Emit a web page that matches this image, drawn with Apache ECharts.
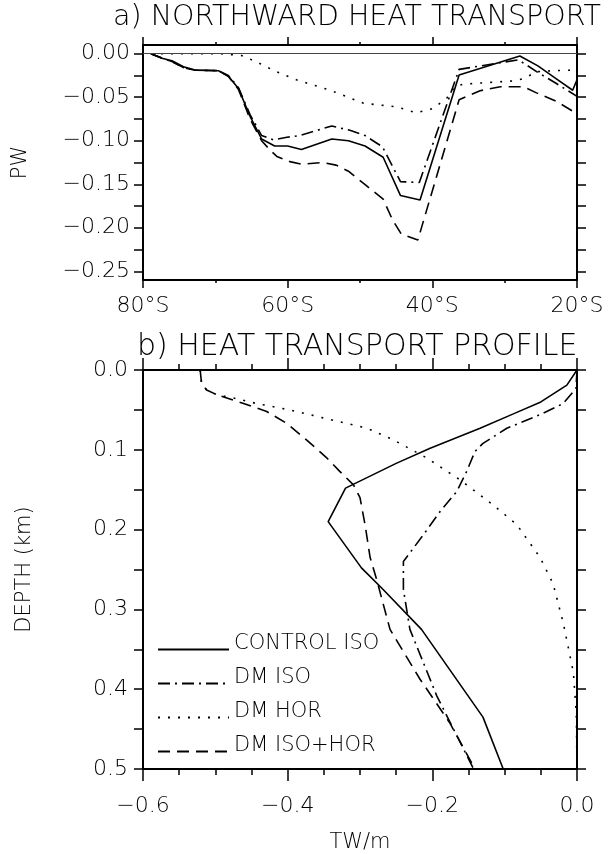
<!DOCTYPE html>
<html><head><meta charset="utf-8">
<script src="https://cdn.jsdelivr.net/npm/echarts@6/dist/echarts.min.js"></script>
<style>html,body{margin:0;padding:0;background:#fff}#c{width:610px;height:854px}</style>
</head><body><div id="c"></div>
<script>
// ---------- series names ----------
const seriesNames = ['CONTROL ISO', 'DM ISO', 'DM HOR', 'DM ISO+HOR'];

// ---------- panel a: northward heat transport (PW) vs latitude ----------
const ctrlLat = [-78.9,-77.4,-76.0,-74.4,-72.8,-69.6,-68.2,-66.8,-65.2,-63.6,-61.8,-60.0,-58.1,-53.9,-51.6,-49.3,-46.8,-44.4,-41.7,-36.3,-27.9,-25.4,-23.0,-20.6,-20.0];
const ctrlPW  = [0,-0.0053,-0.008,-0.015,-0.0187,-0.0195,-0.026,-0.040,-0.072,-0.098,-0.106,-0.106,-0.110,-0.098,-0.100,-0.106,-0.119,-0.163,-0.168,-0.0245,-0.0027,-0.014,-0.028,-0.042,-0.030];

const dmIsoLat = [-78.9,-77.4,-76.0,-74.4,-72.8,-69.6,-68.2,-66.8,-65.2,-63.6,-62.0,-60.1,-58.3,-53.9,-51.4,-49.3,-46.9,-44.4,-41.8,-36.3,-28.1,-25.2,-22.9,-20.0];
const dmIsoPW  = [0,-0.005,-0.009,-0.016,-0.019,-0.0195,-0.025,-0.039,-0.070,-0.094,-0.099,-0.096,-0.094,-0.083,-0.088,-0.094,-0.107,-0.147,-0.148,-0.018,-0.007,-0.0226,-0.034,-0.049];

const dmHorLat = [-78.9,-69.4,-66.4,-64.4,-62.0,-58.8,-54.1,-49.5,-44.9,-42.2,-39.9,-38.0,-36.9,-35.7,-28.4,-27.2,-25.6,-23.3,-20.0];
const dmHorPW  = [0,0,-0.002,-0.009,-0.019,-0.030,-0.042,-0.057,-0.061,-0.068,-0.063,-0.051,-0.038,-0.035,-0.031,-0.028,-0.0207,-0.0195,-0.0188];

const dmBothLat = [-78.9,-77.4,-76.0,-74.4,-72.8,-69.6,-68.2,-66.8,-65.2,-63.6,-62.4,-61.5,-59.7,-58.1,-55.1,-53.3,-51.6,-49.2,-46.8,-45.5,-44.3,-42.0,-36.3,-33.4,-30.6,-27.4,-25.6,-22.8,-20.2,-20.0];
const dmBothPW  = [0,-0.005,-0.009,-0.016,-0.019,-0.0195,-0.026,-0.041,-0.075,-0.100,-0.111,-0.118,-0.124,-0.127,-0.125,-0.128,-0.135,-0.151,-0.167,-0.191,-0.207,-0.214,-0.053,-0.0425,-0.038,-0.038,-0.045,-0.055,-0.068,-0.066];

// ---------- panel b: heat transport profile (TW/m) vs depth (km) ----------
const ctrlDepth = [0,0.019,0.040,0.055,0.073,0.098,0.117,0.148,0.190,0.248,0.275,0.325,0.435,0.500];
const ctrlTW    = [0,-0.014,-0.050,-0.088,-0.134,-0.203,-0.250,-0.320,-0.344,-0.298,-0.268,-0.215,-0.130,-0.102];

const dmIsoDepth = [0,0.023,0.042,0.056,0.073,0.092,0.102,0.127,0.152,0.177,0.206,0.240,0.275,0.325,0.408,0.500];
const dmIsoTW    = [0,-0.0014,-0.019,-0.051,-0.097,-0.130,-0.141,-0.1525,-0.166,-0.189,-0.212,-0.240,-0.240,-0.231,-0.194,-0.143];

const dmHorDepth = [0,0.017,0.025,0.031,0.035,0.042,0.050,0.060,0.073,0.0875,0.110,0.1375,0.169,0.194,0.235,0.268,0.317,0.379,0.430,0.500];
const dmHorTW    = [-0.521,-0.519,-0.512,-0.498,-0.475,-0.443,-0.397,-0.351,-0.290,-0.254,-0.208,-0.162,-0.116,-0.083,-0.051,-0.033,-0.019,-0.005,-0.001,0];

const dmBothDepth = [0,0.017,0.025,0.031,0.042,0.052,0.067,0.0875,0.110,0.127,0.144,0.160,0.194,0.235,0.2625,0.325,0.3875,0.442,0.500];
const dmBothTW    = [-0.521,-0.519,-0.512,-0.498,-0.461,-0.429,-0.401,-0.374,-0.346,-0.328,-0.309,-0.300,-0.293,-0.286,-0.277,-0.2585,-0.217,-0.176,-0.141];

// ---------- tick values ----------
const pwTicks = [-0.25,-0.225,-0.2,-0.175,-0.15,-0.125,-0.1,-0.075,-0.05,-0.025,0];
const pwLabels = [-0.25,-0.2,-0.15,-0.1,-0.05,0];
const twLabels = [-0.6,-0.4,-0.2,0];
const depthTicks = [0,0.05,0.1,0.15,0.2,0.25,0.3,0.35,0.4,0.45,0.5];
const depthLabels = [0,0.1,0.2,0.3,0.4,0.5];

// ---------- styles ----------
const FONT = '"DejaVu Sans"';
const dashTypes = ['solid', [12,5,2,5], [2,8], [12,7]];
function fmt(v, d) { const s = Math.abs(v).toFixed(d); return (v < -1e-9 ? '\u2212' : '') + s; }
const axisLine = { show: true, onZero: false, lineStyle: { color: '#000', width: 2 } };
const labelStyle = { color: '#000', fontFamily: FONT, fontSize: 22, fontWeight: 200 };

function pairs(xs, ys) { return xs.map((x, i) => [x, ys[i]]); }

const panelA = [pairs(ctrlLat, ctrlPW), pairs(dmIsoLat, dmIsoPW), pairs(dmHorLat, dmHorPW), pairs(dmBothLat, dmBothPW)];
const panelB = [pairs(ctrlTW, ctrlDepth), pairs(dmIsoTW, dmIsoDepth), pairs(dmHorTW, dmHorDepth), pairs(dmBothTW, dmBothDepth)];

const series = [];
panelA.forEach((d, i) => {
  const s = {
    name: seriesNames[i], type: 'line', xAxisIndex: 0, yAxisIndex: 0, data: d,
    symbol: 'none', smooth: false, animation: false,
    lineStyle: { color: '#000', width: 1.6, type: dashTypes[i] }, itemStyle: { color: '#000' }
  };
  if (i === 0) {
    s.markLine = { silent: true, symbol: 'none', animation: false, label: { show: false },
      lineStyle: { color: '#444', width: 1, type: 'solid' }, data: [{ yAxis: 0 }] };
  }
  series.push(s);
});
panelB.forEach((d, i) => {
  series.push({
    name: seriesNames[i], type: 'line', xAxisIndex: 2, yAxisIndex: 2, data: d,
    symbol: 'none', smooth: false, animation: false,
    lineStyle: { color: '#000', width: 1.6, type: dashTypes[i] }, itemStyle: { color: '#000' }
  });
});

const latAxis = (pos, showLabel) => ({
  type: 'value', gridIndex: 0, position: pos, min: -80, max: -20, interval: 20,
  axisLine, splitLine: { show: false },
  axisTick: { show: true, length: 8, lineStyle: { color: '#000', width: 1.5 } },
  minorTick: { show: true, splitNumber: 2, length: 3, lineStyle: { color: '#000', width: 1.5 } },
  axisLabel: { show: showLabel, margin: 15, ...labelStyle, formatter: v => Math.abs(v) + '°S' }
});
const pwAxis = (pos, showLabel) => ({
  type: 'value', gridIndex: 0, position: pos, min: -0.26, max: 0.01,
  name: showLabel ? 'PW' : '', nameLocation: 'middle', nameRotate: 90, nameGap: 112,
  nameTextStyle: { color: '#000', fontFamily: FONT, fontSize: 21, fontWeight: 200 },
  axisLine, splitLine: { show: false },
  axisTick: { show: true, length: 9, customValues: pwTicks, lineStyle: { color: '#000', width: 1.5 } },
  axisLabel: { show: showLabel, margin: 13, customValues: pwLabels, ...labelStyle, formatter: v => fmt(v, 2) }
});
const twAxis = (pos, showLabel) => ({
  type: 'value', gridIndex: 1, position: pos, min: -0.6, max: 0, interval: 0.2,
  name: showLabel ? 'TW/m' : '', nameLocation: 'middle', nameGap: 63,
  nameTextStyle: { color: '#000', fontFamily: FONT, fontSize: 21, fontWeight: 200 },
  axisLine, splitLine: { show: false },
  axisTick: { show: true, length: 12, lineStyle: { color: '#000', width: 1.5 } },
  minorTick: { show: true, splitNumber: 4, length: 6, lineStyle: { color: '#000', width: 1.5 } },
  axisLabel: { show: showLabel, margin: 26, customValues: twLabels, ...labelStyle, formatter: v => fmt(v, 1) }
});
const depthAxis = (pos, showLabel) => ({
  type: 'value', gridIndex: 1, position: pos, min: 0, max: 0.5, inverse: true,
  name: showLabel ? 'DEPTH (km)' : '', nameLocation: 'middle', nameRotate: 90, nameGap: 108,
  nameTextStyle: { color: '#000', fontFamily: FONT, fontSize: 21, fontWeight: 200 },
  axisLine, splitLine: { show: false },
  axisTick: { show: true, length: 9, customValues: depthTicks, lineStyle: { color: '#000', width: 1.5 } },
  axisLabel: { show: showLabel, margin: 15, customValues: depthLabels, ...labelStyle, formatter: v => v.toFixed(1) }
});

const option = {
  backgroundColor: '#fff',
  animation: false,
  grid: [
    { left: 143, top: 45, width: 434, height: 235 },
    { left: 143, top: 370, width: 434, height: 400 }
  ],
  xAxis: [latAxis('bottom', true), latAxis('top', false), twAxis('bottom', true), twAxis('top', false)],
  yAxis: [pwAxis('left', true), pwAxis('right', false), depthAxis('left', true), depthAxis('right', false)],
  legend: {
    data: seriesNames, orient: 'vertical', left: 152, top: 628, itemWidth: 71, itemHeight: 14, itemGap: 1,
    selectedMode: false,
    itemStyle: { opacity: 0 },
    formatter: name => '{t|' + name + '}',
    textStyle: {
      color: '#000', fontFamily: FONT, fontSize: 21, fontWeight: 200,
      rich: { t: { color: '#000', fontFamily: FONT, fontSize: 21, fontWeight: 200, lineHeight: 18, padding: [0, 0, 12, 0] } }
    }
  },
  graphic: [
    { type: 'text', left: 113, top: 3, style: { text: 'a) NORTHWARD HEAT TRANSPORT', fill: '#000', fontFamily: FONT, fontSize: 28.5, fontWeight: 200 } },
    { type: 'text', left: 137, top: 332, style: { text: 'b) HEAT TRANSPORT PROFILE', fill: '#000', fontFamily: FONT, fontSize: 30, fontWeight: 200 } }
  ],
  series
};
const chart = echarts.init(document.getElementById('c'));
chart.setOption(option);
</script></body></html>
